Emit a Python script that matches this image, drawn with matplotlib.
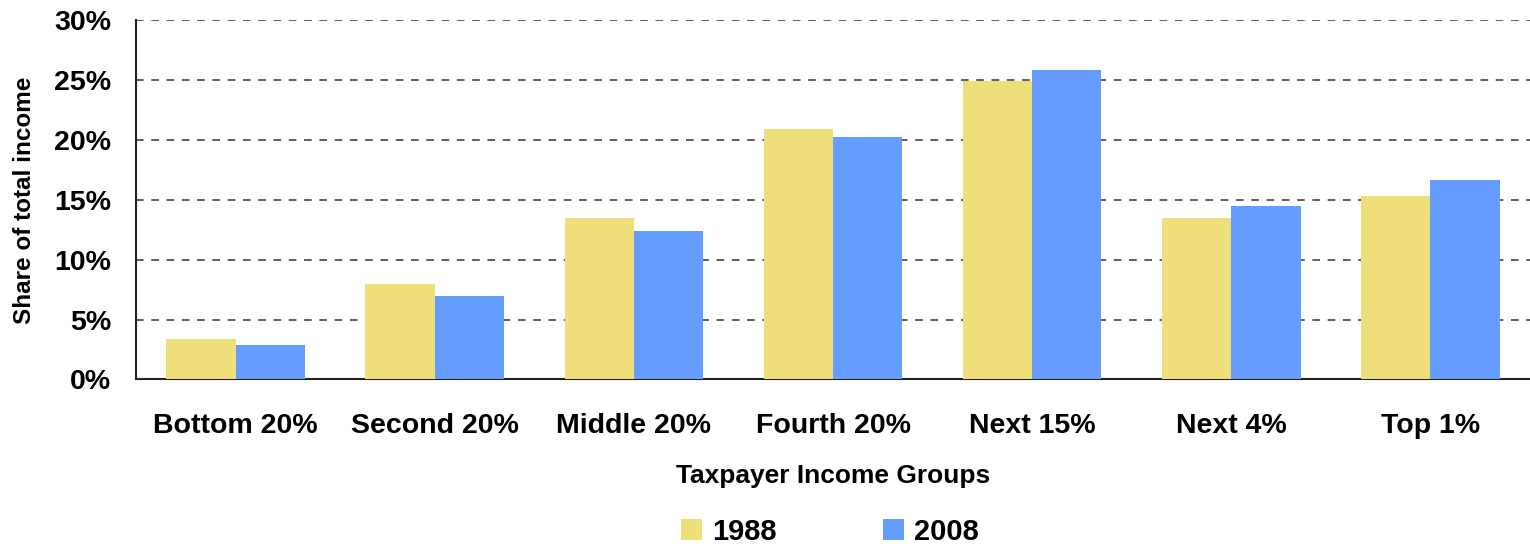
import matplotlib
matplotlib.use("Agg")
import matplotlib.pyplot as plt
import numpy as np
from matplotlib.ticker import FuncFormatter

# Income share by taxpayer group, 1988 vs 2008
groups = ["Bottom 20%", "Second 20%", "Middle 20%", "Fourth 20%",
          "Next 15%", "Next 4%", "Top 1%"]
share_1988 = [3.4, 8.0, 13.5, 20.9, 24.9, 13.5, 15.3]
share_2008 = [2.9, 7.0, 12.4, 20.3, 25.9, 14.5, 16.7]
series_labels = ["1988", "2008"]
y_ticks = [0, 5, 10, 15, 20, 25, 30]

plt.rcParams["font.family"] = ["Liberation Sans", "DejaVu Sans"]
plt.rcParams["font.weight"] = "bold"

fig = plt.figure(figsize=(15.3, 5.44), dpi=100)
ax = fig.add_axes([0.0889, 0.3024, 0.9111, 0.660])

x = np.arange(len(groups))
w = 0.348
c1988 = "#EFDF7A"
c2008 = "#659CFF"
b1 = ax.bar(x - w / 2, share_1988, width=w, color=c1988, label=series_labels[0], zorder=3)
b2 = ax.bar(x + w / 2, share_2008, width=w, color=c2008, label=series_labels[1], zorder=3)

ax.set_xlim(-0.5, len(groups) - 0.5)
ax.set_ylim(0, 30)
ax.set_yticks(y_ticks)
ax.yaxis.set_major_formatter(FuncFormatter(lambda v, p: f"{v:.0f}%"))
ax.set_xticks(x)
ax.set_xticklabels(groups)

ax.yaxis.grid(True, linestyle=(0, (5, 5)), color="#333333", linewidth=1.1, zorder=0)
ax.set_axisbelow(True)
for s in ["top", "right"]:
    ax.spines[s].set_visible(False)
for s in ["left", "bottom"]:
    ax.spines[s].set_color("#222222")
    ax.spines[s].set_linewidth(1.5)

ax.tick_params(axis="both", length=0, labelsize=20.5)
ax.tick_params(axis="x", pad=24)
ax.tick_params(axis="y", pad=18)
for lbl in ax.get_xticklabels() + ax.get_yticklabels():
    lbl.set_fontweight("bold")

ax.set_ylabel("Share of total income", fontsize=17.5, fontweight="bold")
ax.yaxis.set_label_coords(-0.072, 0.5)
fig.text(0.5445, 0.125, "Taxpayer Income Groups", ha="center", va="center",
         fontsize=19, fontweight="bold")

fig.legend(handles=[b1, b2], labels=series_labels, loc="center",
           bbox_to_anchor=(0.5425, 0.022), ncol=2, frameon=False,
           prop={"size": 21, "weight": "bold"}, handlelength=0.72,
           handleheight=0.72, handletextpad=0.34, columnspacing=3.67,
           borderpad=0.1)

fig.savefig("out.png", dpi=100)
